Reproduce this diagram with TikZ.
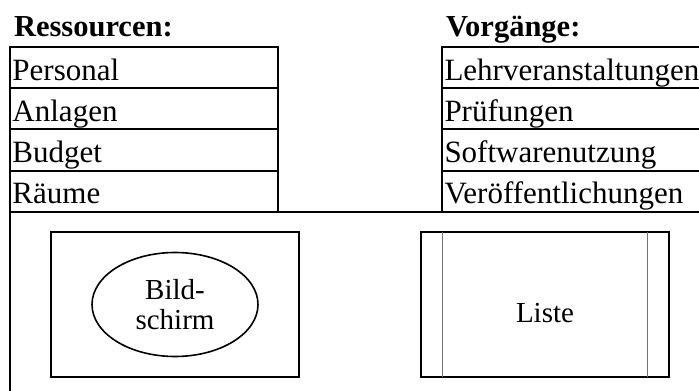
\documentclass[tikz,border=0pt]{standalone}
\usepackage{fontspec}
\setmainfont{Liberation Serif}
\usetikzlibrary{shapes.geometric, positioning}

\begin{document}
\begin{tikzpicture}[x=1pt, y=1pt, node distance=0pt, line width=2pt]

  % Define styles for the different parts
  \tikzstyle{rowbox} = [draw, rectangle, outer sep=0pt, inner sep=2.5pt, text width=263pt, align=left,
                        minimum height=41.25pt, text height=27pt, text depth=2pt, font=\fontsize{31}{36}\selectfont]
  \tikzstyle{title} = [inner sep=0pt, font=\fontsize{30.5}{36}\selectfont\bfseries]
  \tikzstyle{window} = [draw, rectangle, outer sep=0pt, minimum width=248pt, minimum height=145pt]
  \tikzstyle{inner} = [font=\fontsize{29}{30}\selectfont, align=center]
  \tikzstyle{listline} = [line width=0.8pt, black!55]

  \useasboundingbox (0,0) rectangle (699,391);
  \clip (0,0) rectangle (699,391);

  % Ressourcen
  \node (pers) [rowbox, anchor=north west] at (10,344) {Personal};
  \node (anl) [rowbox, below=of pers] {Anlagen};
  \node (budget) [rowbox, below=of anl] {Budget};
  \node (raeume) [rowbox, below=of budget] {Räume};
  \node (res) [title, above right=10pt and 3pt of pers.north west, anchor=base west] {Ressourcen:};

  % Vorgaenge
  \node (lehr) [rowbox, anchor=north west] at (442,344) {Lehrveranstaltungen};
  \node (pruef) [rowbox, below=of lehr] {Prüfungen};
  \node (soft) [rowbox, below=of pruef] {Softwarenutzung};
  \node (veroeff) [rowbox, below=of soft] {Veröffentlichungen};
  \node (vorg) [title, above right=10pt and 3pt of lehr.north west, anchor=base west] {Vorgänge:};

  % outer frame
  \draw (raeume.south west) rectangle (730,-20);

  % windows
  \node (screen) [window] at (175,86.5) {};
  \node (bild) [draw, ellipse, line width=1.6pt, minimum width=166pt, minimum height=104pt, inner sep=0pt, inner] at (screen.center) {Bild-\\schirm};
  \node (liste) [window, right=122pt of screen] {};
  \node (listetext) [inner, below=9pt of liste.center, anchor=center] {Liste};
  \draw[listline] ([xshift=21pt]liste.north west) -- ([xshift=21pt]liste.south west);
  \draw[listline] ([xshift=-22pt]liste.north east) -- ([xshift=-22pt]liste.south east);

\end{tikzpicture}
\end{document}
